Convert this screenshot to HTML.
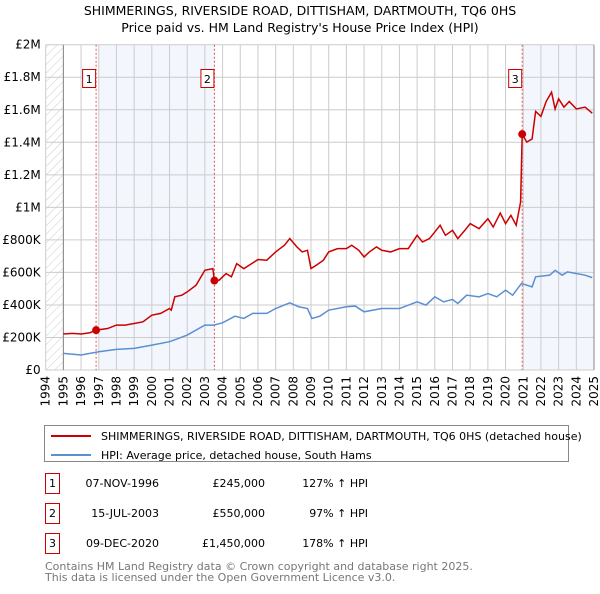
<!DOCTYPE html>
<html><head><meta charset="utf-8"><style>
body{margin:0;background:#fff;font-family:"DejaVu Sans","Liberation Sans",sans-serif;}
svg text{font-family:"DejaVu Sans","Liberation Sans",sans-serif;}
</style></head><body>
<svg id="c" width="600" height="590" xmlns="http://www.w3.org/2000/svg">
<defs><pattern id="hatch" width="6" height="6" patternUnits="userSpaceOnUse" patternTransform="rotate(45)"><line x1="0" y1="0" x2="0" y2="6" stroke="#ccc" stroke-width="1"/></pattern></defs>
<text x="300" y="15" text-anchor="middle" font-size="12.5">SHIMMERINGS, RIVERSIDE ROAD, DITTISHAM, DARTMOUTH, TQ6 0HS</text>
<text x="300" y="32" text-anchor="middle" font-size="12.5">Price paid vs. HM Land Registry's House Price Index (HPI)</text>
<g id="plot"></g>
<g>
<rect x="44.5" y="425.5" width="524" height="36" fill="#fff" stroke="#888"/>
<line x1="51" y1="436" x2="91" y2="436" stroke="#cc0000" stroke-width="2"/>
<text x="101" y="440" font-size="11">SHIMMERINGS, RIVERSIDE ROAD, DITTISHAM, DARTMOUTH, TQ6 0HS (detached house)</text>
<line x1="51" y1="455" x2="91" y2="455" stroke="#5b8fd4" stroke-width="2"/>
<text x="101" y="459" font-size="11">HPI: Average price, detached house, South Hams</text>
</g>
<g id="table" font-size="11"></g>
<text x="45" y="570" font-size="11" fill="#777">Contains HM Land Registry data © Crown copyright and database right 2025.</text>
<text x="45" y="581" font-size="11" fill="#777">This data is licensed under the Open Government Licence v3.0.</text>
</svg>
<script>
const yTicks=[0,200000,400000,600000,800000,1000000,1200000,1400000,1600000,1800000,2000000];
const yTickLabels=["£0","£200K","£400K","£600K","£800K","£1M","£1.2M","£1.4M","£1.6M","£1.8M","£2M"];
const xYears=[1994,1995,1996,1997,1998,1999,2000,2001,2002,2003,2004,2005,2006,2007,2008,2009,2010,2011,2012,2013,2014,2015,2016,2017,2018,2019,2020,2021,2022,2023,2024,2025];
const priceT=[1995,1995.5,1996,1996.5,1996.85,1997.5,1998,1998.5,1999,1999.5,2000,2000.5,2001,2001.1,2001.3,2001.7,2002,2002.5,2003,2003.45,2003.54,2003.8,2004.2,2004.5,2004.8,2005.2,2005.5,2006,2006.5,2007,2007.5,2007.8,2008.2,2008.5,2008.8,2009,2009.3,2009.7,2010,2010.5,2011,2011.3,2011.7,2012,2012.3,2012.7,2013,2013.5,2014,2014.5,2015,2015.3,2015.7,2016,2016.3,2016.6,2017,2017.3,2017.7,2018,2018.5,2019,2019.3,2019.7,2020,2020.3,2020.6,2020.85,2020.94,2021.2,2021.5,2021.7,2022,2022.3,2022.6,2022.8,2023,2023.3,2023.6,2024,2024.5,2024.9];
const priceV=[221,225,221,229,245,255,276,276,286,296,337,348,378,368,450,460,480,521,613,623,550,552,593,573,654,623,644,679,675,726,767,808,757,726,736,624,644,675,726,746,746,767,736,695,726,757,736,726,746,746,828,787,808,849,890,828,859,808,859,900,869,930,879,965,900,951,890,1033,1450,1401,1421,1590,1559,1652,1708,1605,1667,1616,1651,1605,1616,1579];
const hpiT=[1995,1996,1997,1998,1999,2000,2001,2001.5,2002,2003,2003.5,2004,2004.7,2005.2,2005.7,2006.5,2007,2007.8,2008.3,2008.8,2009.05,2009.5,2010,2011,2011.5,2012,2013,2014,2015,2015.5,2016,2016.5,2017,2017.3,2017.8,2018.5,2019,2019.5,2020,2020.4,2020.9,2021.5,2021.7,2022.5,2022.8,2023.2,2023.5,2024.5,2024.9];
const hpiV=[102,92,112,127,133,153,174,194,215,276,276,290,331,317,348,348,378,413,389,378,317,331,368,389,393,358,378,378,419,399,450,419,434,409,460,450,470,450,491,460,532,511,573,583,613,583,603,583,568];
const saleT=[1996.85,2003.54,2020.94];
const saleV=[245000,550000,1450000];
const saleLabels=["1","2","3"];
const saleDates=["07-NOV-1996","15-JUL-2003","09-DEC-2020"];
const salePrices=["£245,000","£550,000","£1,450,000"];
const salePct=["127% ↑ HPI","97% ↑ HPI","178% ↑ HPI"];

const X0=45.7,X1=594,Y0=370,Y1=44.7;
const xS=t=>X0+(t-1994)*(X1-X0)/31;
const yS=v=>Y0-v*(Y0-Y1)/2000000;
const NS="http://www.w3.org/2000/svg";
const plot=document.getElementById('plot');
function mk(tag,attrs,parent){const e=document.createElementNS(NS,tag);for(const k in attrs)e.setAttribute(k,attrs[k]);(parent||plot).appendChild(e);return e;}
// background shading
let r=mk('rect',{x:X0,y:Y1,width:xS(1995)-X0,height:Y0-Y1,fill:'url(#hatch)'});


r=mk('rect',{x:xS(1997),y:Y1,width:xS(saleT[1])-xS(1997),height:Y0-Y1,fill:'#eef2fc',opacity:0.7});


r=mk('rect',{x:xS(saleT[2]),y:Y1,width:X1-xS(saleT[2]),height:Y0-Y1,fill:'#eef2fc',opacity:0.7});


// grid
yTicks.forEach((v,i)=>{
 const l=mk('line',{x1:X0,x2:X1,y1:yS(v),y2:yS(v),stroke:'#ccc'});
 
 
 const t=mk('text',{x:X0-5,y:yS(v)+4,'text-anchor':'end','font-size':'12'});t.textContent=yTickLabels[i];
 
 
});
xYears.forEach(y=>{
 const l=mk('line',{x1:xS(y),x2:xS(y),y1:Y1,y2:Y0,stroke:'#ccc'});
 
 
 const t=mk('text',{x:0,y:0,'font-size':'12','text-anchor':'end',transform:`translate(${xS(y)+4},${Y0+6}) rotate(-90)`});t.textContent=y;
 
 
});
let ax=mk('line',{x1:xS(1995),x2:xS(1995),y1:Y1,y2:Y0,stroke:'#888'});


ax=mk('line',{x1:X1,x2:X1,y1:Y1,y2:Y0,stroke:'#888'});


// sale lines and markers
saleT.forEach((t,i)=>{
 const l=mk('line',{x1:xS(t),x2:xS(t),y1:Y1,y2:Y0,stroke:'#e05555','stroke-dasharray':'2,2'});
 
 
 const bx=mk('rect',{x:xS(t)-13.5,y:69.5,width:13,height:18,fill:'#fff',stroke:'#cc0000'});
 
 
 const tx=mk('text',{x:xS(t)-7,y:83,'text-anchor':'middle','font-size':'11'});tx.textContent=saleLabels[i];
 
 
});
// series
const hp=mk('polyline',{points:hpiT.map((t,i)=>xS(t)+','+yS(hpiV[i]*1000)).join(' '),fill:'none',stroke:'#5b8fd4','stroke-width':1.5});


const pp=mk('polyline',{points:priceT.map((t,i)=>xS(t)+','+yS(priceV[i]*1000)).join(' '),fill:'none',stroke:'#cc0000','stroke-width':1.5});


saleT.forEach((t,i)=>{
 const c=mk('circle',{cx:xS(t),cy:yS(saleV[i]),r:4,fill:'#cc0000'});
 
 
});
// table
const tb=document.getElementById('table');
const rowY=[483,513,543];
saleT.forEach((t,i)=>{
 const y=rowY[i];
 const b=mk('rect',{x:45.5,y:y-9.5,width:14,height:20,fill:'#fff',stroke:'#cc0000'},tb);
 
 
 const vals=[[saleLabels[i],52.5,'middle'],[saleDates[i],159,'end'],[salePrices[i],265,'end'],[salePct[i],368,'end']];
 vals.forEach(v=>{const e=mk('text',{x:v[1],y:y+4,'text-anchor':v[2]},tb);e.textContent=v[0];
  
  });
});
</script>
</body></html>
